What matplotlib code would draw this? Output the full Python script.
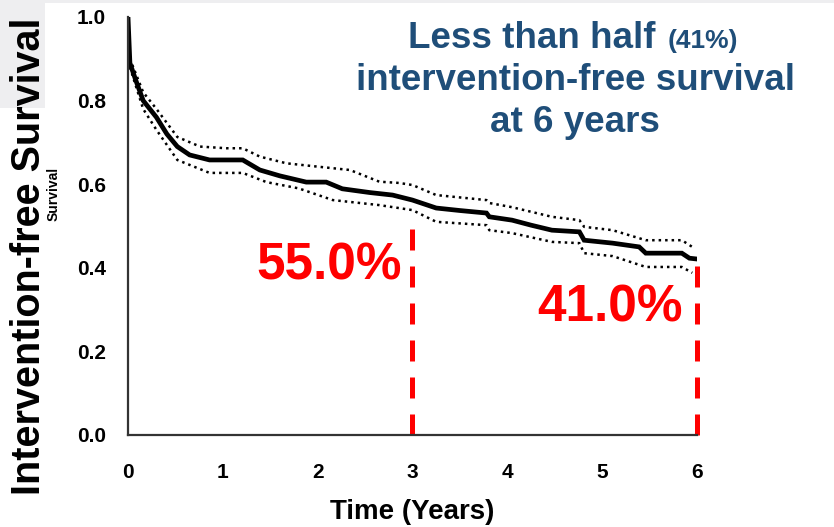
import matplotlib
matplotlib.use("Agg")
import matplotlib.pyplot as plt
from matplotlib.patches import Rectangle

# -----------------------------
# Data
# -----------------------------
time_main = [0, 0.02, 0.08, 0.16, 0.30, 0.41, 0.52, 0.65, 0.86, 1.21, 1.39, 1.60, 1.88,
             2.09, 2.26, 2.55, 2.79, 3.00, 3.25, 3.50, 3.78, 3.81, 4.05, 4.25, 4.47,
             4.76, 4.81, 5.11, 5.39, 5.46, 5.84, 5.92, 6.00]
surv_main = [1.0, 0.89, 0.85, 0.80, 0.76, 0.72, 0.69, 0.67, 0.658, 0.658, 0.634, 0.62, 0.605,
             0.605, 0.589, 0.58, 0.574, 0.562, 0.543, 0.537, 0.531, 0.522, 0.514, 0.502, 0.490,
             0.486, 0.466, 0.459, 0.450, 0.435, 0.435, 0.423, 0.421]

time_upper = [0.02, 0.16, 0.30, 0.52, 0.76, 1.04, 1.21, 1.39, 1.67, 2.00, 2.34, 2.65, 2.86,
              3.00, 3.25, 3.78, 3.81, 4.05, 4.47, 4.76, 4.81, 5.11, 5.46, 5.84, 5.95]
surv_upper = [0.90, 0.82, 0.78, 0.713, 0.69, 0.686, 0.686, 0.666, 0.65, 0.642, 0.634, 0.606, 0.603,
              0.598, 0.574, 0.562, 0.555, 0.545, 0.522, 0.514, 0.498, 0.490, 0.466, 0.466, 0.450]

time_lower = [0.02, 0.16, 0.30, 0.52, 0.86, 1.21, 1.46, 1.80, 2.16, 2.65, 3.00, 3.25, 3.78,
              3.81, 4.05, 4.47, 4.76, 4.81, 5.11, 5.46, 5.84, 5.95]
surv_lower = [0.88, 0.78, 0.73, 0.658, 0.627, 0.627, 0.605, 0.59, 0.562, 0.550, 0.538, 0.510, 0.502,
              0.490, 0.483, 0.462, 0.459, 0.435, 0.428, 0.402, 0.402, 0.388]

marker_years = [3, 6]
marker_tops = [0.514, 0.407]
marker_labels = ["55.0%", "41.0%"]
marker_label_pos = [(2.12, 0.405), (5.08, 0.305)]

x_ticks = [0, 1, 2, 3, 4, 5, 6]
y_ticks = [0.0, 0.2, 0.4, 0.6, 0.8, 1.0]

plt.rcParams['font.family'] = ['Liberation Sans', 'DejaVu Sans']
plt.rcParams['font.weight'] = 'bold'

fig = plt.figure(figsize=(8.34, 5.27), dpi=100)
W, H = 834, 527

# light grey slide background bits
fig.patches.append(Rectangle((0, 1 - 3 / H), 1, 3 / H, transform=fig.transFigure,
                             facecolor='#eeeef0', edgecolor='none', zorder=0))
fig.patches.append(Rectangle((0, 1 - 108 / H), 45 / W, 108 / H, transform=fig.transFigure,
                             facecolor='#eeeef0', edgecolor='none', zorder=0))

ax = fig.add_axes([128 / W, 1 - 435 / H, 569 / W, 418 / H])

# -----------------------------
# Curves
# -----------------------------
ax.plot(time_upper, surv_upper, color='black', lw=1.8, linestyle=(0, (1, 1.6)))
ax.plot(time_lower, surv_lower, color='black', lw=1.8, linestyle=(0, (1, 1.6)))
ax.plot(time_main, surv_main, color='black', lw=3.4, solid_joinstyle='miter')

for yr, top in zip(marker_years, marker_tops):
    ax.plot([yr, yr], [0, top], color='#ff0000', lw=3.6, linestyle=(0, (4.2, 3.2)),
            clip_on=False)

for txt, (px, py) in zip(marker_labels, marker_label_pos):
    ax.text(px, py, txt, color='#ff0000', fontsize=37, fontweight='bold',
            ha='center', va='center')

ax.set_xlim(0, 6)
ax.set_ylim(0, 1)
ax.set_xticks(x_ticks)
ax.set_yticks(y_ticks)
ax.set_xticklabels([str(t) for t in x_ticks])
ax.set_yticklabels([f"{v:.1f}" for v in y_ticks])
ax.tick_params(axis='x', direction='inout', length=6, width=2, color='white',
               pad=17, labelsize=15)
ax.tick_params(axis='y', direction='inout', length=6, width=2, color='white',
               pad=13, labelsize=15)
for lab in ax.get_xticklabels() + ax.get_yticklabels():
    lab.set_fontweight('bold')

for s in ['top', 'right']:
    ax.spines[s].set_visible(False)
for s in ['left', 'bottom']:
    ax.spines[s].set_color('#333333')
    ax.spines[s].set_linewidth(1.6)

ax.set_xlabel("Time (Years)", fontsize=20, fontweight='bold')
ax.xaxis.set_label_coords(0.5, -0.152)

# y label (big) plus the small leftover one beside it
fig.text(29 / W, 1 - 256 / H, "Intervention-free Survival", rotation=90,
         fontsize=28.5, fontweight='bold', ha='center', va='center')
fig.text(54 / W, 1 - 194 / H, "Survival", rotation=90,
         fontsize=10, fontweight='bold', ha='center', va='center')

# -----------------------------
# Headline text
# -----------------------------
navy = '#1f4e79'
fig.text(408 / W, 1 - 48 / H, "Less than half", color=navy, fontsize=26.5,
         fontweight='bold', ha='left', va='baseline')
fig.text(668 / W, 1 - 48 / H, "(41%)", color=navy, fontsize=19,
         fontweight='bold', ha='left', va='baseline')
fig.text(575 / W, 1 - 90 / H, "intervention-free survival", color=navy, fontsize=26.5,
         fontweight='bold', ha='center', va='baseline')
fig.text(575 / W, 1 - 132 / H, "at 6 years", color=navy, fontsize=26.5,
         fontweight='bold', ha='center', va='baseline')

fig.savefig("out.png", dpi=100)
